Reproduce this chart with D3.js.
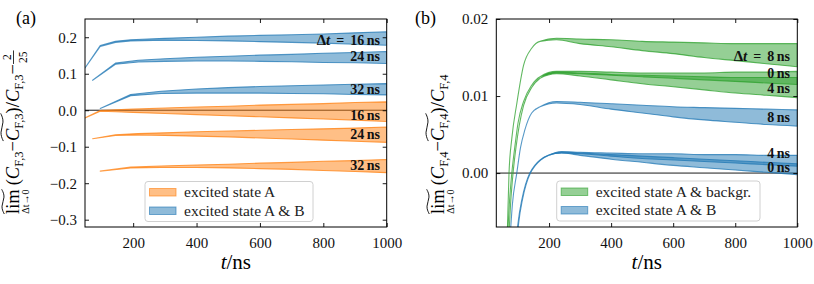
<!DOCTYPE html>
<html><head><meta charset="utf-8">
<script src="https://cdn.jsdelivr.net/npm/d3@7"></script>
<style>body{margin:0;background:#fff}svg{display:block}text{font-family:'Liberation Serif','DejaVu Serif',serif}</style>
</head><body>
<script>
// ---------- Panel (a) data: bands (lower / upper) ----------
const aB16_t  = [48, 96, 144, 192, 300, 400, 500, 600, 700, 800, 900, 1000];
const aB16_lo = [0.116, 0.175, 0.186, 0.190, 0.192, 0.191, 0.190, 0.188, 0.186, 0.184, 0.181, 0.178];
const aB16_hi = [0.116, 0.177, 0.189, 0.193, 0.197, 0.200, 0.203, 0.205, 0.207, 0.209, 0.212, 0.215];
const aB24_t  = [72, 144, 216, 300, 400, 500, 600, 700, 800, 900, 1000];
const aB24_lo = [0.082, 0.126, 0.132, 0.134, 0.135, 0.135, 0.134, 0.133, 0.131, 0.130, 0.128];
const aB24_hi = [0.082, 0.129, 0.137, 0.141, 0.145, 0.148, 0.151, 0.153, 0.156, 0.158, 0.161];
const aB32_t  = [96, 192, 288, 400, 500, 600, 700, 800, 900, 1000];
const aB32_lo = [0.005, 0.040, 0.046, 0.047, 0.047, 0.047, 0.046, 0.045, 0.043, 0.042];
const aB32_hi = [0.005, 0.043, 0.052, 0.058, 0.062, 0.065, 0.067, 0.069, 0.071, 0.073];
const aO16_t  = [48, 96, 144, 200, 300, 400, 500, 600, 700, 800, 900, 1000];
const aO16_lo = [-0.021, -0.003, -0.004, -0.006, -0.009, -0.012, -0.015, -0.018, -0.021, -0.024, -0.027, -0.031];
const aO16_hi = [-0.021, -0.001, 0.001, 0.003, 0.006, 0.009, 0.011, 0.014, 0.016, 0.018, 0.021, 0.023];
const aO24_t  = [72, 144, 216, 300, 400, 500, 600, 700, 800, 900, 1000];
const aO24_lo = [-0.078, -0.069, -0.068, -0.069, -0.071, -0.073, -0.076, -0.079, -0.082, -0.085, -0.088];
const aO24_hi = [-0.078, -0.067, -0.064, -0.062, -0.059, -0.057, -0.055, -0.053, -0.051, -0.049, -0.046];
const aO32_t  = [96, 192, 288, 400, 500, 600, 700, 800, 900, 1000];
const aO32_lo = [-0.167, -0.158, -0.157, -0.157, -0.158, -0.160, -0.162, -0.165, -0.168, -0.171];
const aO32_hi = [-0.167, -0.156, -0.153, -0.150, -0.148, -0.145, -0.143, -0.140, -0.138, -0.135];
const aLabels = ["16", "24", "32", "16", "24", "32"];
const aLabelY = [0.180, 0.135, 0.045, -0.028, -0.078, -0.165];
const aLegend = ["excited state A", "excited state A & B"];
const aXTicks = [200, 400, 600, 800, 1000];
const aYTicks = [-0.3, -0.2, -0.1, 0.0, 0.1, 0.2];

// ---------- Panel (b) data ----------
const bG8_t  = [60, 66, 71, 80, 96, 118, 144, 171, 224, 300, 400, 500, 600, 700, 800, 900, 1000];
const bG8_lo = [-0.015, -0.007, 0.000, 0.0045, 0.0090, 0.0140, 0.0162, 0.0171, 0.0173, 0.0168, 0.0164, 0.0159, 0.0155, 0.0150, 0.0146, 0.0142, 0.0138];
const bG8_hi = [-0.015, -0.007, 0.000, 0.0045, 0.0090, 0.0140, 0.0162, 0.0171, 0.0175, 0.0174, 0.0173, 0.0171, 0.0170, 0.0169, 0.0168, 0.0168, 0.0168];
const bG0_t  = [64, 72, 80, 90, 100, 118, 144, 171, 224, 300, 400, 500, 600, 700, 800, 900, 1000];
const bG0_lo = [-0.010, -0.004, 0.000, 0.0035, 0.0065, 0.0093, 0.0114, 0.0125, 0.0130, 0.0129, 0.0127, 0.0125, 0.0123, 0.0121, 0.0119, 0.0117, 0.0115];
const bG0_hi = [-0.010, -0.004, 0.000, 0.0035, 0.0065, 0.0093, 0.0114, 0.0125, 0.0132, 0.0132, 0.0131, 0.0130, 0.0130, 0.0130, 0.0131, 0.0131, 0.0132];
const bG4_t  = [68, 76, 84, 94, 104, 118, 144, 171, 224, 300, 400, 500, 600, 700, 800, 900, 1000];
const bG4_lo = [-0.010, -0.004, 0.000, 0.0035, 0.0062, 0.0088, 0.0111, 0.0123, 0.0129, 0.0126, 0.0121, 0.0116, 0.0112, 0.0108, 0.0104, 0.0101, 0.0098];
const bG4_hi = [-0.010, -0.004, 0.000, 0.0035, 0.0062, 0.0088, 0.0111, 0.0123, 0.0131, 0.0130, 0.0128, 0.0127, 0.0126, 0.0125, 0.0124, 0.0124, 0.0124];
const bB8_t  = [72, 82, 96, 108, 122, 144, 171, 224, 300, 400, 500, 600, 700, 800, 900, 1000];
const bB8_lo = [-0.010, -0.004, 0.000, 0.0033, 0.0056, 0.0078, 0.0086, 0.0091, 0.0089, 0.0083, 0.0078, 0.0073, 0.0069, 0.0066, 0.0063, 0.0061];
const bB8_hi = [-0.010, -0.004, 0.000, 0.0033, 0.0056, 0.0078, 0.0086, 0.0093, 0.0092, 0.0090, 0.0088, 0.0086, 0.0085, 0.0084, 0.0083, 0.0082];
const bB4_t  = [92, 100, 112, 124, 138, 154, 171, 197, 240, 300, 400, 500, 600, 700, 800, 900, 1000];
const bB4_lo = [-0.010, -0.0065, -0.0035, -0.0015, 0.000, 0.0010, 0.0017, 0.0023, 0.0026, 0.0025, 0.0022, 0.0019, 0.0017, 0.0015, 0.0013, 0.0011, 0.0009];
const bB4_hi = [-0.010, -0.0065, -0.0035, -0.0015, 0.000, 0.0010, 0.0017, 0.0023, 0.0028, 0.0027, 0.0026, 0.0025, 0.0025, 0.0024, 0.0024, 0.0023, 0.0023];
const bB0_t  = [94, 102, 114, 126, 140, 156, 173, 199, 240, 300, 400, 500, 600, 700, 800, 900, 1000];
const bB0_lo = [-0.010, -0.0065, -0.0035, -0.0015, 0.000, 0.0010, 0.0017, 0.0023, 0.0026, 0.0023, 0.0018, 0.0014, 0.0010, 0.0007, 0.0004, 0.0001, -0.0002];
const bB0_hi = [-0.010, -0.0065, -0.0035, -0.0015, 0.000, 0.0010, 0.0017, 0.0023, 0.0027, 0.0026, 0.0024, 0.0022, 0.0020, 0.0018, 0.0016, 0.0014, 0.0012];
const bLabels = ["8", "0", "4", "8", "4", "0"];
const bLabelY = [0.0145, 0.0124, 0.0104, 0.0066, 0.0020, 0.0001];
const bLegend = ["excited state A & backgr.", "excited state A & B"];
const bXTicks = [200, 400, 600, 800, 1000];
const bYTicks = [0.00, 0.01, 0.02];

// ---------- styling ----------
const FONT = "'Liberation Serif', 'DejaVu Serif', serif";
const BLUE = "#1f77b4", ORANGE = "#ff7f0e", GREEN = "#2ca02c";

const svg = d3.select("body").append("svg").attr("width", 814).attr("height", 284)
  .style("font-family", FONT);

function zipBand(t, lo, hi) { return t.map((v, i) => ({t: v, lo: lo[i], hi: hi[i]})); }

function panel(opts) {
  const x = d3.scaleLinear().domain(opts.xDomain).range([opts.left, opts.right]);
  const y = d3.scaleLinear().domain(opts.yDomain).range([opts.bottom, opts.top]);
  const g = svg.append("g");
  const clipId = "clip" + opts.id;
  g.append("clipPath").attr("id", clipId).append("rect")
    .attr("x", opts.left).attr("y", opts.top)
    .attr("width", opts.right - opts.left).attr("height", opts.bottom - opts.top);
  g.append("line").attr("x1", opts.left).attr("x2", opts.right)
    .attr("y1", y(0)).attr("y2", y(0)).attr("stroke", "#000").attr("stroke-width", 0.9);
  const plot = g.append("g").attr("clip-path", `url(#${clipId})`);
  const area = d3.area().x(d => x(d.t)).y0(d => y(d.lo)).y1(d => y(d.hi)).curve(opts.curve);
  opts.bands.forEach(b => {
    plot.append("path").datum(b.data).attr("d", area)
      .attr("fill", b.color).attr("fill-opacity", 0.5)
      .attr("stroke", b.color).attr("stroke-opacity", 0.75).attr("stroke-width", 1.1)
      .attr("stroke-linejoin", "round");
  });
  g.append("g").attr("transform", `translate(0,${opts.bottom})`)
    .call(d3.axisBottom(x).tickValues(opts.xTicks).tickSize(-4).tickSizeOuter(0).tickPadding(10).tickFormat(d3.format("d")))
    .call(s => s.selectAll("text").style("font-size", "15px").style("font-family", FONT).attr("fill", "#111"));
  g.append("g").attr("transform", `translate(0,${opts.top})`)
    .call(d3.axisTop(x).tickValues(opts.xTicks).tickSize(-4).tickSizeOuter(0).tickFormat(""));
  g.append("g").attr("transform", `translate(${opts.left},0)`)
    .call(d3.axisLeft(y).tickValues(opts.yTicks).tickSize(-4).tickSizeOuter(0).tickPadding(8).tickFormat(opts.yFmt))
    .call(s => s.selectAll("text").style("font-size", "15px").style("font-family", FONT).attr("fill", "#111"));
  g.append("g").attr("transform", `translate(${opts.right},0)`)
    .call(d3.axisRight(y).tickValues(opts.yTicks).tickSize(-4).tickSizeOuter(0).tickFormat(""));
  g.selectAll(".domain").remove();
  g.selectAll(".tick line").attr("stroke", "#000").attr("stroke-width", 0.9);
  g.append("rect").attr("x", opts.left).attr("y", opts.top)
    .attr("width", opts.right - opts.left).attr("height", opts.bottom - opts.top)
    .attr("fill", "none").attr("stroke", "#000").attr("stroke-width", 1);
  opts.labels.forEach((l, i) => {
    const t = g.append("text").attr("x", opts.labelX).attr("y", y(opts.labelY[i]))
      .attr("text-anchor", "end").style("font-size", "14px").style("font-weight", "bold").attr("fill", "#111");
    if (i === 0) {
      t.append("tspan").style("font-size", "15px").text("Δ");
      t.append("tspan").style("font-style", "italic").style("font-size", "15px").text("t");
      t.append("tspan").attr("dx", 6).text("=");
    }
    t.append("tspan").attr("dx", i === 0 ? 6 : 0).text(l);
    t.append("tspan").attr("dx", 2.5).text("ns");
  });
  const L = opts.legend;
  const lg = g.append("g");
  lg.append("rect").attr("x", L.x).attr("y", L.y).attr("width", L.w).attr("height", L.h)
    .attr("rx", 3).attr("fill", "#fff").attr("fill-opacity", 0.85).attr("stroke", "#d0d0d0").attr("stroke-width", 1);
  L.items.forEach((it, i) => {
    const yy = L.y + 7 + i * 18.5;
    lg.append("rect").attr("x", L.x + 4.5).attr("y", yy).attr("width", 26.5).attr("height", 7.5)
      .attr("fill", it.color).attr("fill-opacity", 0.5).attr("stroke", it.color).attr("stroke-opacity", 0.6);
    lg.append("text").attr("x", L.x + 39).attr("y", yy + 8.5).text(it.label)
      .style("font-size", "15.5px").attr("fill", "#222");
  });
  const xl = g.append("text").attr("x", (opts.left + opts.right) / 2).attr("y", 269)
    .attr("text-anchor", "middle").style("font-size", "21px");
  xl.append("tspan").style("font-style", "italic").text("t");
  xl.append("tspan").text("/ns");
  g.append("text").attr("x", opts.tagX).attr("y", 24).style("font-size", "18px").text(opts.tag);
  return {x, y, g};
}

function mathLabel(px, py, pieces) {
  const g = svg.append("g").attr("transform", `translate(${px},${py}) rotate(-90)`);
  let x = 0, tildeStart = null;
  const tilde = (x0, w, yb) => {
    const line = d3.line().curve(d3.curveBasis);
    g.append("path").attr("d", line([[x0, yb + 1.3], [x0 + w * 0.3, yb - 2.4], [x0 + w * 0.7, yb + 2.4], [x0 + w, yb - 1.3]]))
      .attr("fill", "none").attr("stroke", "#000").attr("stroke-width", 0.9);
  };
  pieces.forEach(p => {
    if (p.gap) { x += p.gap; return; }
    if (p.tildeStart) { tildeStart = x; return; }
    if (p.tildeEnd) { tilde(tildeStart, x - tildeStart, -17); return; }
    if (p.frac) {
      const n = g.append("text").style("font-size", p.size + "px").text(p.frac[0]);
      const d = g.append("text").style("font-size", p.size + "px").text(p.frac[1]);
      const wn = n.node().getComputedTextLength(), wd = d.node().getComputedTextLength();
      const w = Math.max(wn, wd) + 2;
      n.attr("x", x + (w - wn) / 2).attr("y", -8.5);
      d.attr("x", x + (w - wd) / 2).attr("y", 7.5);
      g.append("line").attr("x1", x).attr("x2", x + w).attr("y1", -5.5).attr("y2", -5.5)
        .attr("stroke", "#000").attr("stroke-width", 0.8);
      x += w;
      return;
    }
    const t = g.append("text").attr("x", x).attr("y", p.dy || 0).style("font-size", (p.size || 18) + "px")
      .style("font-style", p.italic ? "italic" : "normal").text(p.s);
    const w = t.node().getComputedTextLength();
    if (p.under) {
      const u = g.append("text").style("font-size", p.under.size + "px").text(p.under.s);
      const wu = u.node().getComputedTextLength();
      const shift = Math.max(0, (wu - w) / 2);
      t.attr("x", x + shift);
      u.attr("x", x + shift + (w - wu) / 2).attr("y", p.under.dy);
      if (p.tilde) tilde(x + shift, w, -16);
      x += Math.max(w, wu);
    } else {
      if (p.tilde) tilde(x, w, -16);
      x += w;
    }
  });
}

panel({
  id: "a", left: 85, right: 386.7, top: 19, bottom: 227,
  xDomain: [48, 1000], yDomain: [-0.32, 0.25], curve: d3.curveLinear,
  xTicks: aXTicks, yTicks: aYTicks,
  yFmt: d => (d < 0 ? "\u2212" : "") + Math.abs(d).toFixed(1),
  bands: [
    {data: zipBand(aO16_t, aO16_lo, aO16_hi), color: ORANGE},
    {data: zipBand(aO24_t, aO24_lo, aO24_hi), color: ORANGE},
    {data: zipBand(aO32_t, aO32_lo, aO32_hi), color: ORANGE},
    {data: zipBand(aB16_t, aB16_lo, aB16_hi), color: BLUE},
    {data: zipBand(aB24_t, aB24_lo, aB24_hi), color: BLUE},
    {data: zipBand(aB32_t, aB32_lo, aB32_hi), color: BLUE}
  ],
  labels: aLabels, labelY: aLabelY, labelX: 380,
  legend: {x: 145, y: 181.5, w: 168, h: 40,
    items: [{label: aLegend[0], color: ORANGE}, {label: aLegend[1], color: BLUE}]},
  tag: "(a)", tagX: 16
});
panel({
  id: "b", left: 496.3, right: 797.3, top: 19, bottom: 227,
  xDomain: [30, 1000], yDomain: [-0.007, 0.02], curve: d3.curveMonotoneX,
  xTicks: bXTicks, yTicks: bYTicks,
  yFmt: d3.format(".2f"),
  bands: [
    {data: zipBand(bB8_t, bB8_lo, bB8_hi), color: BLUE},
    {data: zipBand(bB4_t, bB4_lo, bB4_hi), color: BLUE},
    {data: zipBand(bB0_t, bB0_lo, bB0_hi), color: BLUE},
    {data: zipBand(bG8_t, bG8_lo, bG8_hi), color: GREEN},
    {data: zipBand(bG0_t, bG0_lo, bG0_hi), color: GREEN},
    {data: zipBand(bG4_t, bG4_lo, bG4_hi), color: GREEN}
  ],
  labels: bLabels, labelY: bLabelY, labelX: 790,
  legend: {x: 556.7, y: 181, w: 203.3, h: 40,
    items: [{label: bLegend[0], color: GREEN}, {label: bLegend[1], color: BLUE}]},
  tag: "(b)", tagX: 415
});

const MS = 18.5, SS = 12.5;
const sub = (s) => ({s, size: SS, dy: 4});
mathLabel(19, 214, [
  {s: "lim", size: MS, tilde: true, under: {s: "Δt→0", size: 10, dy: 9.5}},
  {gap: 4},
  {s: "(", size: MS}, {s: "C", size: MS, italic: true}, sub("F,3"),
  {s: " − ", size: MS},
  {tildeStart: true}, {s: "C", size: MS, italic: true}, sub("F,3"), {tildeEnd: true},
  {s: ")", size: MS}, {s: "/", size: MS}, {s: "C", size: MS, italic: true}, sub("F,3"),
  {s: " − ", size: MS},
  {frac: ["2", "25"], size: 11.5}
]);
mathLabel(444, 214, [
  {s: "lim", size: MS, tilde: true, under: {s: "Δt→0", size: 10, dy: 9.5}},
  {gap: 4},
  {s: "(", size: MS}, {s: "C", size: MS, italic: true}, sub("F,4"),
  {s: " − ", size: MS},
  {tildeStart: true}, {s: "C", size: MS, italic: true}, sub("F,4"), {tildeEnd: true},
  {s: ")", size: MS}, {s: "/", size: MS}, {s: "C", size: MS, italic: true}, sub("F,4")
]);
</script>
</body></html>
